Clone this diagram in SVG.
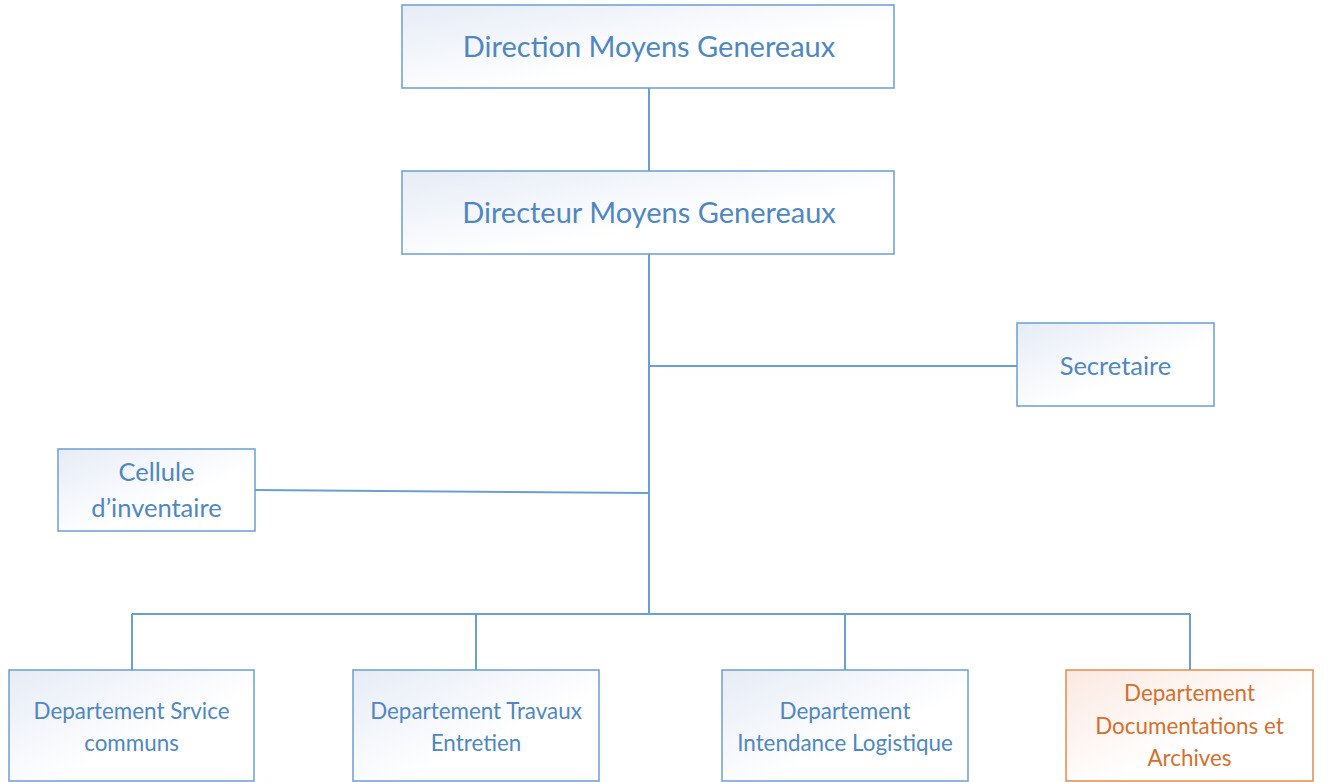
<svg xmlns="http://www.w3.org/2000/svg" width="1328" height="782" viewBox="0 0 1328 782">
<defs>
<linearGradient id="gb" x1="0" y1="0" x2="1" y2="1">
<stop offset="0" stop-color="#e6ecf6"/><stop offset="0.6" stop-color="#ffffff"/>
</linearGradient>
<linearGradient id="go" x1="0" y1="0" x2="1" y2="1">
<stop offset="0" stop-color="#fbe9e1"/><stop offset="0.6" stop-color="#ffffff"/>
</linearGradient>
<style>
.b rect{fill:url(#gb);stroke:#6a9fd3;stroke-width:1.5}
.b text{fill:#4f87c0;font-family:Lato,"Open Sans",sans-serif;text-anchor:middle}
.o rect{fill:url(#go);stroke:#e58a4e;stroke-width:1.5}
.o text{fill:#d4702f;font-family:Lato,"Open Sans",sans-serif;text-anchor:middle}
.c{stroke:#6a9fd3;stroke-width:2;fill:none}
</style>
</defs>
<rect width="1328" height="782" fill="#ffffff"/>
<g id="connectors" class="c">
<line x1="649" y1="88" x2="649" y2="171"/>
<line x1="649" y1="254" x2="649" y2="614"/>
<line x1="649" y1="366" x2="1017" y2="366"/>
<line x1="255" y1="490" x2="649" y2="493"/>
<line x1="132" y1="614" x2="1190" y2="614"/>
<line x1="132" y1="614" x2="132" y2="670"/>
<line x1="476" y1="614" x2="476" y2="670"/>
<line x1="845" y1="614" x2="845" y2="670"/>
<line x1="1190" y1="614" x2="1190" y2="670"/>
</g>
<g id="n1" class="b"><rect x="402" y="5" width="492" height="83"/><text x="649" y="57" font-size="29">Direction Moyens Genereaux</text></g>
<g id="n2" class="b"><rect x="402" y="171" width="492" height="83"/><text x="649" y="223" font-size="29">Directeur Moyens Genereaux</text></g>
<g id="n3" class="b"><rect x="1017" y="323" width="197" height="83"/><text x="1115.5" y="375" font-size="25.5">Secretaire</text></g>
<g id="n4" class="b"><rect x="58" y="449" width="197" height="82"/><text x="156.5" y="481" font-size="25.5">Cellule</text><text x="156.5" y="517" font-size="25.5">d’inventaire</text></g>
<g id="n5" class="b"><rect x="9" y="670" width="245" height="111"/><text x="131.5" y="719" font-size="22.4">Departement Srvice</text><text x="131.5" y="751" font-size="22.4">communs</text></g>
<g id="n6" class="b"><rect x="353" y="670" width="246" height="111"/><text x="476" y="719" font-size="22.4">Departement Travaux</text><text x="476" y="751" font-size="22.4">Entretien</text></g>
<g id="n7" class="b"><rect x="722" y="670" width="246" height="111"/><text x="845" y="719" font-size="22.4">Departement</text><text x="845" y="751" font-size="22.4">Intendance Logistique</text></g>
<g id="n8" class="o"><rect x="1066" y="670" width="247" height="111"/><text x="1189.5" y="701" font-size="22.4">Departement</text><text x="1189.5" y="734" font-size="22.4">Documentations et</text><text x="1189.5" y="766" font-size="22.4">Archives</text></g>
</svg>
